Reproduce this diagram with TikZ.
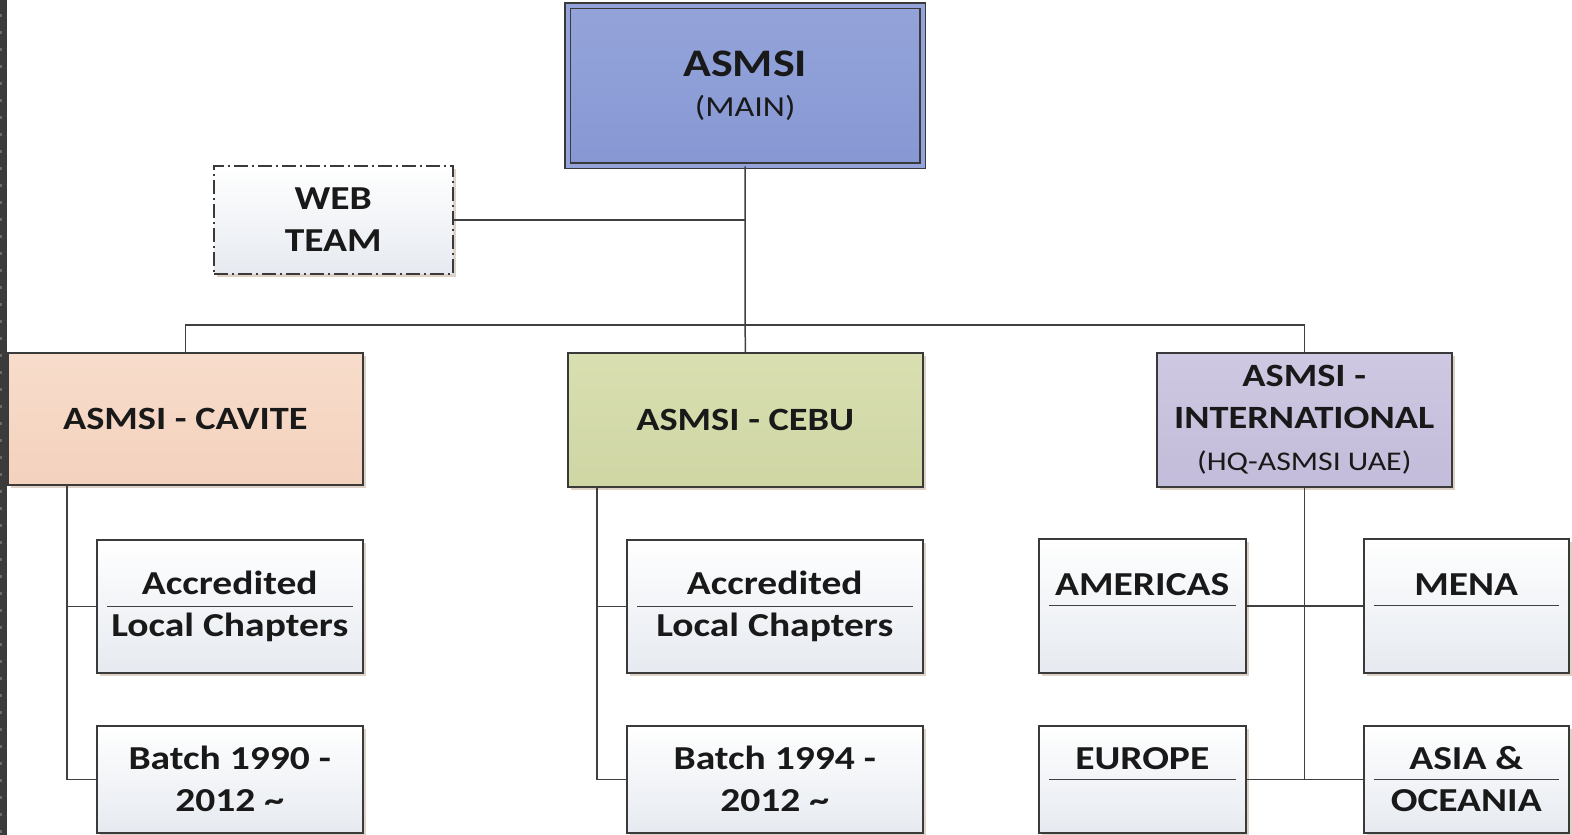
\documentclass[tikz,border=0pt]{standalone}
\usepackage{fontspec}
\setmainfont{Carlito}[FakeStretch=1.18]
\usetikzlibrary{shadows}
\definecolor{linec}{HTML}{404040}
\definecolor{borderc}{HTML}{3A3A3A}
\definecolor{mainTop}{HTML}{94A4DA}
\definecolor{mainBot}{HTML}{8797D3}
\definecolor{cavTop}{HTML}{F8DCCB}
\definecolor{cavBot}{HTML}{F3D2BE}
\definecolor{cebTop}{HTML}{D9DFB0}
\definecolor{cebBot}{HTML}{CFD6A4}
\definecolor{intTop}{HTML}{CEC8E2}
\definecolor{intBot}{HTML}{C3BCDA}
\definecolor{kidBot}{HTML}{E6EAF0}
\definecolor{shadowc}{HTML}{C4AE98}
\definecolor{stripc}{HTML}{3B3B3B}
\definecolor{stripm}{HTML}{6A6A6A}
\tikzset{
  basebox/.style={draw=borderc, line width=1.5pt, anchor=north west, inner sep=0pt,
    align=center, text=black!90,
    drop shadow={shadow xshift=3pt, shadow yshift=-3pt, fill=shadowc, opacity=0.55}},
  mainbox/.style={basebox, top color=mainTop, bottom color=mainBot, double=mainTop,
    double distance=4pt, line width=1.3pt, font=\fontsize{29}{40}\selectfont,
    drop shadow={shadow xshift=3pt, shadow yshift=-3pt, fill=yellow!30!green!20, opacity=0.6}},
  secttext/.style={font=\fontsize{32.5}{42}\selectfont\bfseries},
  kidtext/.style={font=\fontsize{33.5}{42}\selectfont\bfseries},
  cavbox/.style={basebox, secttext, top color=cavTop, bottom color=cavBot},
  cebbox/.style={basebox, secttext, top color=cebTop, bottom color=cebBot},
  intbox/.style={basebox, secttext, top color=intTop, bottom color=intBot},
  kidbox/.style={basebox, kidtext, top color=white, bottom color=kidBot},
  webbox/.style={kidbox, dash pattern=on 14pt off 4pt on 2pt off 4pt},
  conn/.style={draw=linec, line width=1.5pt},
  divline/.style={draw=linec, line width=1.3pt},
}
\begin{document}
\begin{tikzpicture}[x=1pt, y=-1pt]
\useasboundingbox (0,0) rectangle (1572,835);
\fill[white] (0,0) rectangle (1572,835);
% left dark strip
\fill[stripc] (0,0) rectangle (7,835);
\foreach \k in {0,...,48} { \fill[stripm] (0,{14+17*\k}) rectangle (2,{17+17*\k}); }

% nodes
\node[mainbox, minimum width=355pt, minimum height=160pt] (main) at (567,5)
  {{\fontsize{39}{40}\selectfont\bfseries ASMSI}\\(MAIN)};
\node[webbox, minimum width=239pt, minimum height=108pt] (web) at (213,165)
  {WEB\\TEAM};
\node[cavbox, minimum width=355pt, minimum height=132pt] (cav) at (7,352)
  {ASMSI - CAVITE};
\node[cebbox, minimum width=355pt, minimum height=134pt] (ceb) at (567,352)
  {ASMSI - CEBU};
\node[intbox, minimum width=295pt, minimum height=134pt] (intl) at (1156,352)
  {ASMSI -\\INTERNATIONAL\\{\mdseries\fontsize{27}{42}\selectfont (HQ-ASMSI UAE)}};

\node[kidbox, minimum width=266pt, minimum height=133pt] (acc1) at (96,539)
  {Accredited\\Local Chapters};
\node[kidbox, minimum width=266pt, minimum height=107pt] (bat1) at (96,725)
  {Batch 1990 -\\2012 \textasciitilde};
\node[kidbox, minimum width=296pt, minimum height=133pt] (acc2) at (626,539)
  {Accredited\\Local Chapters};
\node[kidbox, minimum width=296pt, minimum height=107pt] (bat2) at (626,725)
  {Batch 1994 -\\2012 \textasciitilde};

\node[kidbox, minimum width=207pt, minimum height=134pt] (amer) at (1038,538)
  {AMERICAS\\\mbox{}};
\node[kidbox, minimum width=205pt, minimum height=134pt] (mena) at (1363,538)
  {MENA\\\mbox{}};
\node[kidbox, minimum width=207pt, minimum height=107pt] (eur) at (1038,725)
  {EUROPE\\\mbox{}};
\node[kidbox, minimum width=205pt, minimum height=107pt] (asia) at (1363,725)
  {ASIA \&\\OCEANIA};

% dividers
\foreach \n in {acc1,acc2,amer,mena,eur,asia}
  \draw[divline] ([xshift=11pt]\n.west) -- ([xshift=-11pt]\n.east);

% connectors
\coordinate (bus) at (744,325);
\coordinate (cavx) at (67,484);
\coordinate (cebx) at (597,486);
\draw[conn] (main.south) -- (ceb.north);
\draw[conn] (web.east) -- (web.east -| main.south);
\draw[conn] (cav.north) |- (bus) -| (intl.north);
\draw[conn] (cavx) |- (bat1.west);
\draw[conn] (acc1.west) -- (acc1.west -| cavx);
\draw[conn] (cebx) |- (bat2.west);
\draw[conn] (acc2.west) -- (acc2.west -| cebx);
\draw[conn] (intl.south) -- (intl.south |- eur.east);
\draw[conn] (amer.east) -- (mena.west);
\draw[conn] (eur.east) -- (asia.west);
\end{tikzpicture}
\end{document}
